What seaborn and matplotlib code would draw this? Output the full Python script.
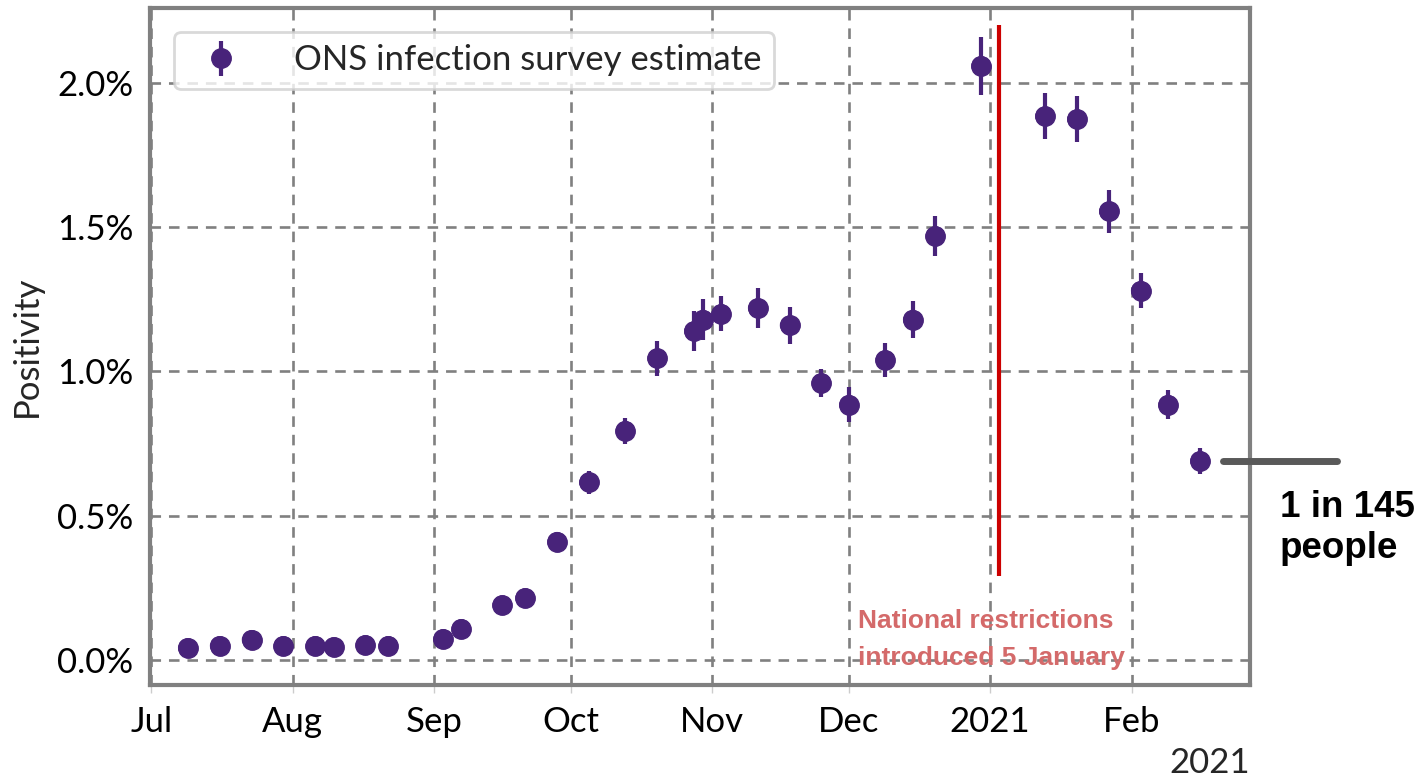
import pandas as pd
import numpy as np
import matplotlib
matplotlib.use("Agg")
import matplotlib.pyplot as plt
from matplotlib.ticker import FuncFormatter
import seaborn as sns

# Données (positivité en %)
dates = ["2020-07-09", "2020-07-16", "2020-07-23", "2020-07-30", "2020-08-06",
         "2020-08-10", "2020-08-17", "2020-08-22", "2020-09-03", "2020-09-07",
         "2020-09-16", "2020-09-21", "2020-09-28", "2020-10-05", "2020-10-13",
         "2020-10-20", "2020-10-28", "2020-10-30", "2020-11-03", "2020-11-11",
         "2020-11-18", "2020-11-25", "2020-12-01", "2020-12-09", "2020-12-15",
         "2020-12-20", "2020-12-30", "2021-01-13", "2021-01-20", "2021-01-27",
         "2021-02-03", "2021-02-09", "2021-02-16"]
positivity = [0.042, 0.049, 0.070, 0.049, 0.049, 0.045, 0.052, 0.049, 0.073, 0.108,
              0.190, 0.215, 0.410, 0.615, 0.795, 1.045, 1.140, 1.180, 1.200, 1.220,
              1.160, 0.960, 0.885, 1.040, 1.180, 1.470, 2.060, 1.885, 1.875, 1.555,
              1.280, 0.885, 0.690]
error = [0.01, 0.01, 0.01, 0.01, 0.01, 0.01, 0.01, 0.01, 0.01, 0.012,
         0.015, 0.015, 0.03, 0.04, 0.045, 0.06, 0.07, 0.07, 0.06, 0.07,
         0.065, 0.05, 0.06, 0.06, 0.065, 0.07, 0.10, 0.08, 0.08, 0.075,
         0.06, 0.05, 0.045]

lockdown_date = "2021-01-03"
month_ticks = ["2020-07-01", "2020-08-01", "2020-09-01", "2020-10-01", "2020-11-01",
               "2020-12-01", "2021-01-01", "2021-02-01"]
month_labels = ["Jul", "Aug", "Sep", "Oct", "Nov", "Dec", "2021", "Feb"]
y_ticks = [0.0, 0.5, 1.0, 1.5, 2.0]

df = pd.DataFrame({"date": pd.to_datetime(dates), "positivity": positivity, "error": error})

sns.set_theme(style="whitegrid")
plt.rcParams['font.family'] = ['Lato', 'DejaVu Sans']

purple = "#48237a"
grid_grey = "#808080"
label_size = 25

fig = plt.figure(figsize=(14.21, 7.79), dpi=100)
ax = fig.add_axes([0.1056, 0.1207, 0.7741, 0.869])

ax.errorbar(df["date"], df["positivity"], yerr=df["error"], fmt="o", color=purple,
            ecolor=purple, elinewidth=3, markersize=14, capsize=0, zorder=3,
            label="ONS infection survey estimate")
sns.scatterplot(data=df, x="date", y="positivity", color=purple, s=196,
                edgecolor="none", zorder=4, ax=ax, legend=False)

ld = pd.to_datetime(lockdown_date)
ax.vlines(ld, 0.29, 2.20, color="#cc0000", linewidth=3, zorder=2)
ax.text(pd.to_datetime("2020-12-03"), 0.135, "National restrictions", color="#d46a6a",
        fontsize=19, fontweight="bold", family=["Liberation Sans"], va="center")
ax.text(pd.to_datetime("2020-12-03"), 0.008, "introduced 5 January", color="#d46a6a",
        fontsize=19, fontweight="bold", family=["Liberation Sans"], va="center")

# Trait gris et annotation à droite
ax.plot([pd.to_datetime("2021-02-21"), pd.to_datetime("2021-03-18")], [0.69, 0.69],
        color="#595959", linewidth=5, clip_on=False, zorder=5)
fig.text(0.9005, 0.322, "1 in 145\npeople", fontsize=26.5, fontweight="bold",
         family=["Liberation Sans"], color="black", va="center", ha="left",
         linespacing=1.2)

ax.set_xlim(pd.to_datetime("2020-06-30 18:00"), pd.to_datetime("2021-02-27"))
ax.set_ylim(-0.087, 2.26)
ax.set_xticks(pd.to_datetime(month_ticks))
ax.set_xticklabels(month_labels)
ax.set_yticks(y_ticks)
ax.yaxis.set_major_formatter(FuncFormatter(lambda v, p: f"{v:.1f}%"))
ax.tick_params(axis="both", labelsize=label_size, colors="black", length=6, width=1,
               color="#cccccc", pad=6)
ax.tick_params(axis="x", bottom=True, direction="out", pad=9)
ax.set_xlabel("")
ax.set_ylabel("Positivity", fontsize=label_size, labelpad=10)

ax.grid(True, linestyle=(0, (4, 3)), color=grid_grey, linewidth=1.9)
for s in ax.spines.values():
    s.set_color(grid_grey)
    s.set_linewidth(3)

ax.text(1.0, -0.115, "2021", transform=ax.transAxes, fontsize=label_size,
        ha="right", va="center")

leg = ax.legend(loc="upper left", fontsize=label_size, frameon=True, fancybox=True,
                borderpad=0.35, handletextpad=1.1, borderaxespad=0.7)
leg.get_frame().set_edgecolor("#d0d0d0")
leg.get_frame().set_linewidth(2)

fig.savefig("out.png", dpi=100)
